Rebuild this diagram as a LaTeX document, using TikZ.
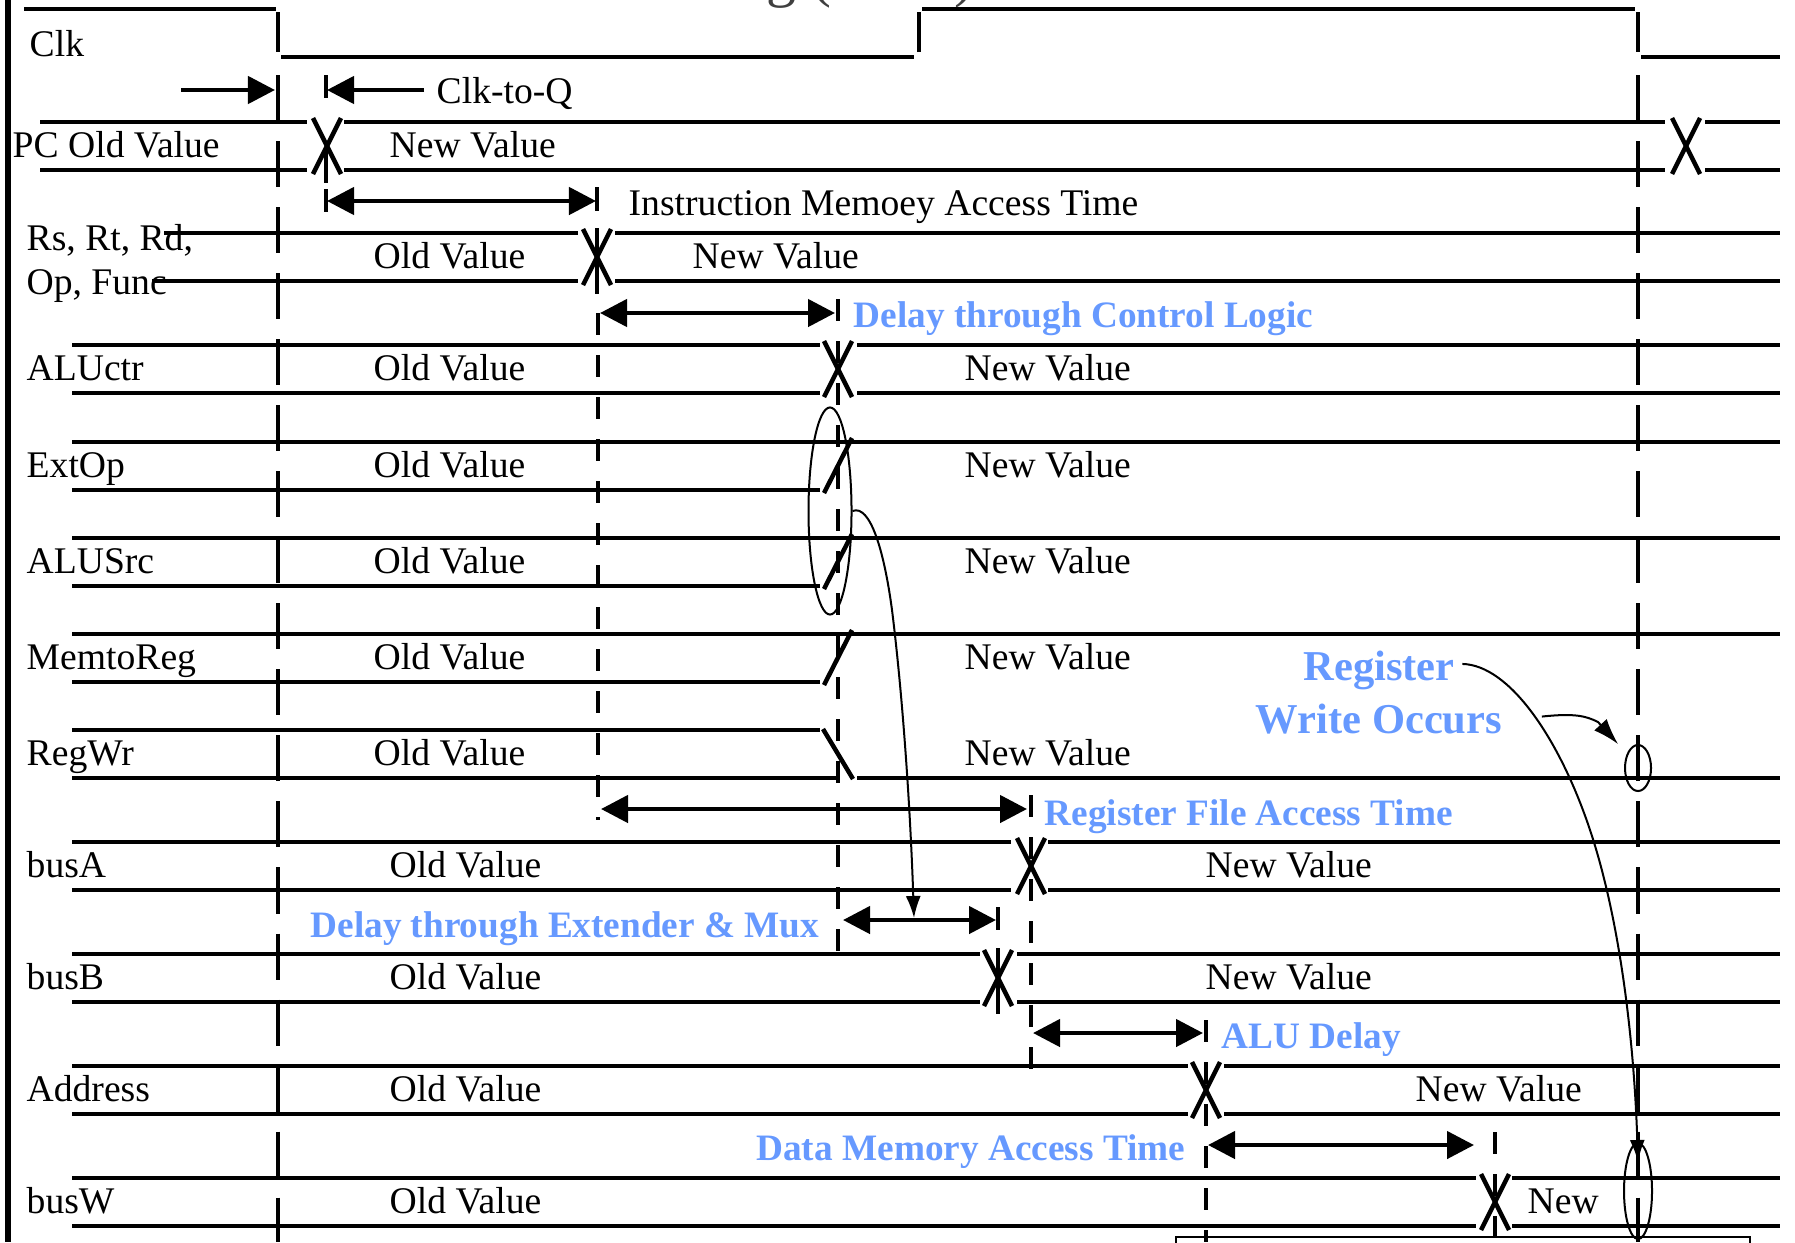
\documentclass[tikz,border=0pt]{standalone}
\usepackage{fontspec}
\setmainfont{Liberation Serif}
\usetikzlibrary{arrows.meta,shapes.geometric,calc}
\definecolor{myblue}{RGB}{102,153,255}
\tikzset{
  sig/.style={line width=0.045cm},
  ldash/.style={line width=0.045cm, dash pattern=on 0.46cm off 0.20cm},
  sdash/.style={line width=0.045cm, dash pattern=on 0.22cm off 0.20cm},
  tarrow/.style={line width=0.045cm, {Triangle[length=0.27cm,width=0.27cm]}-{Triangle[length=0.27cm,width=0.27cm]}},
  rarrow/.style={line width=0.045cm, -{Triangle[length=0.27cm,width=0.27cm]}},
  thinl/.style={line width=0.02cm},
  thinarrow/.style={line width=0.02cm, -{Latex[length=0.22cm,width=0.15cm]}},
  lbl/.style={font=\fontsize{10.7}{12}\selectfont, inner sep=0, anchor=base west},
  bl/.style={font=\fontsize{10.6}{12}\selectfont\bfseries, text=myblue, inner sep=0},
  blbig/.style={font=\fontsize{12.1}{14}\selectfont\bfseries, text=myblue, inner sep=0, anchor=base},
  ell/.style={ellipse, draw, thinl, inner sep=0},
}
\newcommand{\xcr}[2]{\draw[sig] ({#1-14},{#2-4}) -- ({#1+14},{#2+52}); \draw[sig] ({#1+14},{#2-4}) -- ({#1-14},{#2+52});}
\begin{document}
\begin{tikzpicture}[x=0.01cm,y=-0.01cm]
\useasboundingbox (0,0) rectangle (1795,1242);
\clip (0,0) rectangle (1795,1242);

% partly visible title
\node[font=\fontsize{17}{20}\selectfont, inner sep=0, anchor=base east, text=black!75] (title) at (975,-5) {Worst Case Timing (Load)};

% left border
\draw[line width=0.05cm] (8,0) -- (8,1242);

% Clk
\draw[sig] (24,9) -- (276,9);
\draw[sig] (278,12) -- (278,52);
\draw[sig] (281,57) -- (914,57);
\draw[sig] (919,52) -- (919,12);
\draw[sig] (922,9) -- (1635,9);
\draw[sig] (1638,12) -- (1638,52);
\draw[sig] (1641,57) -- (1780,57);

% PC
\draw[sig] (40,122) -- (307,122) (344,122) -- (1665,122) (1705,122) -- (1780,122);
\draw[sig] (40,170) -- (307,170) (344,170) -- (1665,170) (1705,170) -- (1780,170);
\xcr{327}{122}
\xcr{1686}{122}

% Rs Rt Rd
\draw[sig] (164,233) -- (578,233) (615,233) -- (1780,233);
\draw[sig] (152,281) -- (578,281) (615,281) -- (1780,281);
\xcr{597}{233}

% ALUctr
\draw[sig] (72,345) -- (820,345) (857,345) -- (1780,345);
\draw[sig] (72,393) -- (820,393) (857,393) -- (1780,393);
\xcr{838}{345}

% ExtOp
\draw[sig] (72,442) -- (1780,442);
\draw[sig] (72,490) -- (820,490);
\draw[sig] (824,493) -- (852,438);
% ALUSrc
\draw[sig] (72,538) -- (1780,538);
\draw[sig] (72,586) -- (820,586);
\draw[sig] (824,589) -- (852,534);
% MemtoReg
\draw[sig] (72,634) -- (1780,634);
\draw[sig] (72,682) -- (820,682);
\draw[sig] (824,685) -- (852,630);
% RegWr
\draw[sig] (72,730) -- (820,730);
\draw[sig] (72,778) -- (840,778) (857,778) -- (1780,778);
\draw[sig] (823,729) -- (853,779);

% busA
\draw[sig] (72,842) -- (1011,842) (1048,842) -- (1780,842);
\draw[sig] (72,890) -- (1011,890) (1048,890) -- (1780,890);
\xcr{1031}{842}
% busB
\draw[sig] (72,954) -- (980,954) (1017,954) -- (1780,954);
\draw[sig] (72,1002) -- (980,1002) (1017,1002) -- (1780,1002);
\xcr{998}{954}
% Address
\draw[sig] (72,1066) -- (1188,1066) (1224,1066) -- (1780,1066);
\draw[sig] (72,1114) -- (1188,1114) (1224,1114) -- (1780,1114);
\xcr{1206}{1066}
% busW
\draw[sig] (72,1178) -- (1476,1178) (1512,1178) -- (1780,1178);
\draw[sig] (72,1226) -- (1476,1226) (1512,1226) -- (1780,1226);
\xcr{1495}{1178}

% dashed timing lines
\draw[ldash] (278,75) -- (278,1242);
\draw[ldash] (1638,75) -- (1638,1242);
\draw[sdash] (598,313) -- (598,820);
\draw[sdash] (838,299) -- (838,951);
\draw[sdash] (1031,795) -- (1031,1070);
\draw[sdash] (1206,1020) -- (1206,1242);
\draw[sdash] (1495,1132) -- (1495,1242);

% small ticks
\draw[sig] (326,75) -- (326,98);
\draw[sig] (326,150) -- (326,183);
\draw[sig] (326,189) -- (326,212);
\draw[sig] (597,187) -- (597,211);
\draw[sig] (597,228) -- (597,294);
\draw[sig] (998,907) -- (998,930);
\draw[sig] (998,948) -- (998,1014);

% timing arrows
\draw[rarrow] (181,90) -- (275,90);
\draw[rarrow] (424,90) -- (327,90);
\draw[tarrow] (327,201) -- (596,201);
\draw[tarrow] (600,313) -- (835,313);
\draw[tarrow] (601,809) -- (1027,809);
\draw[tarrow] (843,920) -- (996,920);
\draw[tarrow] (1033,1033) -- (1203,1033);
\draw[tarrow] (1208,1145) -- (1474,1145);

% labels
\node[lbl] (clk) at (29,56) {Clk};
\node[lbl] (ctq) at (436,103) {Clk-to-Q};
\node[lbl] (pc) at (12,157) {PC Old Value};
\node[lbl] (pcnew) at (389,157) {New Value};
\node[lbl] (imat) at (628,215) {Instruction Memoey Access Time};
\node[lbl] (rs1) at (26,250) {Rs, Rt, Rd,};
\node[lbl] (rs2) at (26,294) {Op, Func};
\node[lbl] (rsold) at (373,268) {Old Value};
\node[lbl] (rsnew) at (692,268) {New Value};

\node[lbl] (aluctr) at (26,380) {ALUctr};
\node[lbl] (aluctrold) at (373,380) {Old Value};
\node[lbl] (aluctrnew) at (964,380) {New Value};
\node[lbl] (extop) at (26,477) {ExtOp};
\node[lbl] (extopold) at (373,477) {Old Value};
\node[lbl] (extopnew) at (964,477) {New Value};
\node[lbl] (alusrc) at (26,573) {ALUSrc};
\node[lbl] (alusrcold) at (373,573) {Old Value};
\node[lbl] (alusrcnew) at (964,573) {New Value};
\node[lbl] (mtr) at (26,669) {MemtoReg};
\node[lbl] (mtrold) at (373,669) {Old Value};
\node[lbl] (mtrnew) at (964,669) {New Value};
\node[lbl] (regwr) at (26,765) {RegWr};
\node[lbl] (regwrold) at (373,765) {Old Value};
\node[lbl] (regwrnew) at (964,765) {New Value};

\node[lbl] (busa) at (26,877) {busA};
\node[lbl] (busaold) at (389,877) {Old Value};
\node[lbl] (busanew) at (1205,877) {New Value};
\node[lbl] (busb) at (26,989) {busB};
\node[lbl] (busbold) at (389,989) {Old Value};
\node[lbl] (busbnew) at (1205,989) {New Value};
\node[lbl] (addr) at (26,1101) {Address};
\node[lbl] (addrold) at (389,1101) {Old Value};
\node[lbl] (addrnew) at (1415,1101) {New Value};
\node[lbl] (busw) at (26,1213) {busW};
\node[lbl] (buswold) at (389,1213) {Old Value};
\node[lbl] (buswnew) at (1527,1213) {New};

% blue labels
\node[bl, anchor=base west] (ctl) at (853,327) {Delay through Control Logic};
\node[bl, anchor=base west] (rfat) at (1044,825) {Register File Access Time};
\node[bl, anchor=base east] (ext) at (820,937) {Delay through Extender \& Mux};
\node[bl, anchor=base west] (alud) at (1221,1048) {ALU Delay};
\node[bl, anchor=base east] (dmat) at (1186,1160) {Data Memory Access Time};
\node[blbig] (rw1) at (1379,680) {Register};
\node[blbig] (rw2) at (1379,733) {Write Occurs};

% ellipses
\node[ell, minimum width=0.43cm, minimum height=2.07cm] (e1) at (830,511) {};
\node[ell, minimum width=0.26cm, minimum height=0.46cm] (e2) at (1638,768) {};
\node[ell, minimum width=0.28cm, minimum height=0.96cm] (e3) at (1638,1191) {};

% annotation curves
\coordinate (c1end) at (914,918);
\coordinate (c2end) at (1638,1162);
\coordinate (c3end) at (1618,744);
\draw[thinarrow] (e1.east) .. controls (870,504) and (884,550) .. (892,610) .. controls (902,690) and (910,800) .. (c1end);
\draw[thinarrow] ([xshift=0.07cm,yshift=0.06cm]rw1.east) .. controls (1510,665) and (1560,740) .. (1590,830) .. controls (1620,920) and (1634,1040) .. (c2end);
\draw[thinl, -{Latex[length=0.26cm,width=0.17cm]}] ([xshift=0.39cm,yshift=0.02cm]rw2.east) .. controls (1575,713) and (1586,716) .. (1598,722) -- (c3end);

% bottom box edge
\draw[line width=0.015cm] (1176,1260) -- (1176,1237) -- (1750,1237) -- (1750,1260);
\end{tikzpicture}
\end{document}
